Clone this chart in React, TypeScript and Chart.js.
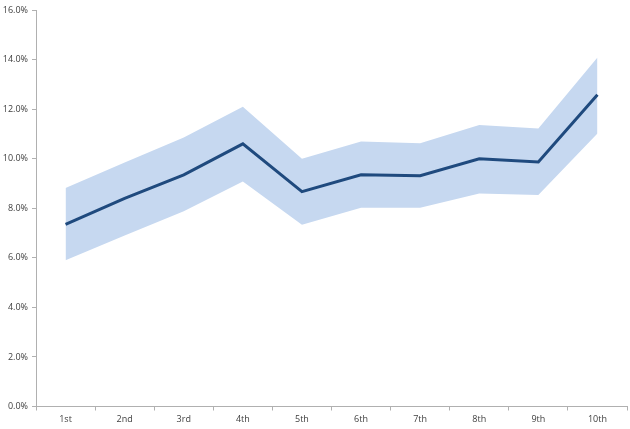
import React, { useEffect, useRef } from "react";
import { Chart, registerables } from "chart.js";

Chart.register(...registerables);

const categories = ["1st", "2nd", "3rd", "4th", "5th", "6th", "7th", "8th", "9th", "10th"];
const midValues = [7.35, 8.4, 9.35, 10.6, 8.67, 9.35, 9.31, 10.0, 9.87, 12.58];
const upperValues = [8.82, 9.85, 10.85, 12.1, 10.0, 10.69, 10.62, 11.36, 11.22, 14.08];
const lowerValues = [5.9, 6.9, 7.88, 9.08, 7.33, 8.02, 8.02, 8.6, 8.53, 11.02];
const yTicks = [0, 2, 4, 6, 8, 10, 12, 14, 16];

export default function App() {
  const ref = useRef<HTMLCanvasElement | null>(null);
  useEffect(() => {
    document.body.style.margin = "0";
    const ctx = ref.current!;
    const font = { family: "'Open Sans', 'Liberation Sans', sans-serif", size: 9 };
    const chart = new Chart(ctx, {
      type: "line",
      data: {
        labels: categories,
        datasets: [
          {
            data: midValues,
            borderColor: "#1f4a7e",
            borderWidth: 3,
            pointRadius: 0,
            fill: false,
            tension: 0,
            order: 0,
          },
          {
            data: lowerValues,
            borderColor: "rgba(0,0,0,0)",
            borderWidth: 0,
            pointRadius: 0,
            fill: false,
            tension: 0,
            order: 2,
          },
          {
            data: upperValues,
            borderColor: "rgba(0,0,0,0)",
            backgroundColor: "#c6d8f0",
            borderWidth: 0,
            pointRadius: 0,
            fill: 1,
            tension: 0,
            order: 1,
          },
        ],
      },
      options: {
        animation: false,
        responsive: false,
        layout: { padding: { top: 10, right: 3, left: 0, bottom: 0 } },
        plugins: { legend: { display: false }, tooltip: { enabled: false } },
        scales: {
          x: {
            offset: true,
            grid: {
              offset: true,
              drawOnChartArea: false,
              drawTicks: true,
              tickLength: 4,
              color: "#b0b0b0",
            },
            border: { color: "#b0b0b0", width: 1 },
            ticks: { color: "#404040", font, padding: 4, maxRotation: 0 },
            afterFit: (s: any) => {
              s.height = 22.5;
            },
          },
          y: {
            min: 0,
            max: 16,
            afterBuildTicks: (s: any) => {
              s.ticks = yTicks.map((v) => ({ value: v }));
            },
            grid: {
              drawOnChartArea: false,
              drawTicks: true,
              tickLength: 4,
              color: "#b0b0b0",
            },
            border: { color: "#b0b0b0", width: 1 },
            ticks: {
              color: "#404040",
              font,
              padding: 4,
              callback: (v: any) => Number(v).toFixed(1) + "%",
            },
            afterFit: (s: any) => {
              s.width = 36;
            },
          },
        },
      },
    });
    return () => chart.destroy();
  }, []);
  return (
    <div style={{ width: 630, height: 429, background: "#fff" }}>
      <canvas ref={ref} width={630} height={429} style={{ display: "block" }} />
    </div>
  );
}
